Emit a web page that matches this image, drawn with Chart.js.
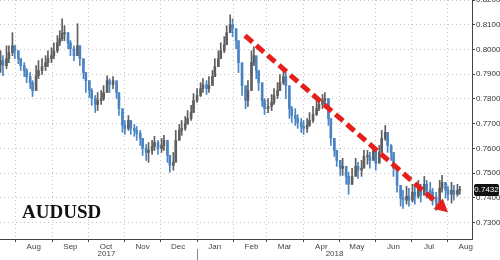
<!DOCTYPE html>
<html>
<head>
<meta charset="utf-8">
<script src="https://cdn.jsdelivr.net/npm/chart.js@4.4.1/dist/chart.umd.min.js"></script>
<style>
  html, body { margin: 0; padding: 0; background: #fff; }
  #wrap { width: 500px; height: 260px; position: relative; }
</style>
</head>
<body>
<div id="wrap"><canvas id="chart"></canvas></div>
<script>
// AUDUSD daily bars, x = days since 2017-07-01
const days = [18,20,23,25,28,30,33,35,38,40, 43,45,48,50,53,56,58,61,63,66,
  68,70,72,75,77,80,83,85,88,90, 93,95,98,100,103,105,108,110,113,116,
  118,121,123,126,128,131,133,136,138,141, 143,146,148,151,154,156,159,161,164,166,
  169,171,174,176,179,181,184,187,189,192, 194,197,199,202,204,207,209,212,214,217,
  219,222,225,227,230,232,234,236,239,241, 244,247,249,252,254,257,259,262,264,267,
  269,272,274,277,279,282,285,287,290,292, 295,297,300,302,305,307,310,312,315,318,
  320,323,325,328,330,333,335,338,340,343, 345,348,350,353,356,358,361,363,366,368,
  371,373,376,378,381,383,386,389,391,394, 396,399,401,404,406];

const closes = [0.7955,0.7935,0.7963,0.7987,0.8015,0.7995,0.7963,0.7935,0.7915,0.7890,
  0.7866,0.7834,0.7894,0.7915,0.7931,0.7947,0.7963,0.7975,0.7995,0.8027,
  0.8044,0.8064,0.8068,0.8027,0.8003,0.7975,0.8015,0.7963,0.7907,0.7874,
  0.7834,0.7802,0.7778,0.7794,0.7802,0.7826,0.7874,0.7858,0.7874,0.7826,
  0.7761,0.7693,0.7681,0.7713,0.7681,0.7673,0.7661,0.7641,0.7600,0.7584,
  0.7592,0.7608,0.7624,0.7600,0.7612,0.7633,0.7572,0.7532,0.7544,0.7633,
  0.7673,0.7681,0.7701,0.7721,0.7745,0.7794,0.7814,0.7842,0.7858,0.7842,
  0.7854,0.7890,0.7931,0.7963,0.7995,0.8019,0.8068,0.8100,0.8084,0.8036,
  0.7947,0.7854,0.7794,0.7834,0.7947,0.7975,0.7915,0.7866,0.7794,0.7761,
  0.7770,0.7786,0.7814,0.7834,0.7866,0.7890,0.7854,0.7761,0.7733,0.7721,
  0.7705,0.7689,0.7681,0.7693,0.7713,0.7737,0.7761,0.7778,0.7794,0.7802,
  0.7721,0.7641,0.7592,0.7552,0.7520,0.7528,0.7487,0.7455,0.7487,0.7528,
  0.7512,0.7520,0.7568,0.7568,0.7552,0.7592,0.7540,0.7584,0.7641,0.7665,
  0.7612,0.7584,0.7520,0.7451,0.7399,0.7391,0.7407,0.7391,0.7423,0.7407,
  0.7439,0.7411,0.7455,0.7431,0.7423,0.7403,0.7383,0.7439,0.7463,0.7431,
  0.7415,0.7431,0.7415,0.7431,0.7432];

const highs = [0.7995,0.7975,0.8015,0.8015,0.8068,0.8015,0.7995,0.7963,0.7947,0.7923,
  0.7907,0.7874,0.7935,0.7955,0.7963,0.7975,0.7995,0.8007,0.8027,0.8056,
  0.8076,0.8124,0.8096,0.8068,0.8036,0.8015,0.8104,0.8015,0.7955,0.7907,
  0.7874,0.7842,0.7814,0.7826,0.7834,0.7854,0.7894,0.7882,0.7890,0.7866,
  0.7814,0.7745,0.7713,0.7733,0.7713,0.7697,0.7689,0.7673,0.7641,0.7616,
  0.7624,0.7633,0.7649,0.7633,0.7641,0.7653,0.7612,0.7572,0.7584,0.7673,
  0.7697,0.7713,0.7729,0.7753,0.7774,0.7822,0.7842,0.7866,0.7882,0.7874,
  0.7890,0.7915,0.7963,0.7995,0.8027,0.8052,0.8096,0.8140,0.8124,0.8084,
  0.7995,0.7907,0.7834,0.7874,0.7995,0.8011,0.7955,0.7907,0.7842,0.7802,
  0.7802,0.7818,0.7842,0.7866,0.7899,0.7915,0.7907,0.7814,0.7770,0.7761,
  0.7737,0.7721,0.7713,0.7721,0.7745,0.7770,0.7794,0.7802,0.7818,0.7826,
  0.7794,0.7693,0.7633,0.7592,0.7552,0.7560,0.7528,0.7504,0.7520,0.7560,
  0.7544,0.7552,0.7592,0.7592,0.7584,0.7612,0.7584,0.7612,0.7673,0.7693,
  0.7653,0.7616,0.7572,0.7504,0.7439,0.7431,0.7447,0.7439,0.7455,0.7447,
  0.7471,0.7455,0.7487,0.7471,0.7463,0.7439,0.7423,0.7471,0.7491,0.7463,
  0.7447,0.7463,0.7451,0.7455,0.7447];

const lows = [0.7907,0.7894,0.7923,0.7947,0.7975,0.7963,0.7943,0.7915,0.7890,0.7866,
  0.7842,0.7810,0.7854,0.7882,0.7899,0.7915,0.7931,0.7947,0.7963,0.7987,
  0.8015,0.8036,0.8036,0.8003,0.7975,0.7955,0.7975,0.7935,0.7882,0.7826,
  0.7806,0.7774,0.7745,0.7753,0.7778,0.7794,0.7834,0.7826,0.7842,0.7802,
  0.7733,0.7665,0.7657,0.7673,0.7657,0.7649,0.7633,0.7612,0.7572,0.7552,
  0.7544,0.7576,0.7592,0.7576,0.7584,0.7592,0.7544,0.7504,0.7512,0.7592,
  0.7633,0.7653,0.7673,0.7697,0.7713,0.7761,0.7786,0.7810,0.7826,0.7818,
  0.7826,0.7858,0.7899,0.7931,0.7963,0.7987,0.8036,0.8068,0.8052,0.8003,
  0.7907,0.7814,0.7761,0.7770,0.7894,0.7935,0.7882,0.7834,0.7770,0.7737,
  0.7745,0.7753,0.7778,0.7802,0.7834,0.7858,0.7802,0.7721,0.7705,0.7693,
  0.7681,0.7665,0.7657,0.7665,0.7689,0.7705,0.7733,0.7753,0.7761,0.7770,
  0.7693,0.7612,0.7568,0.7528,0.7491,0.7491,0.7455,0.7415,0.7455,0.7491,
  0.7479,0.7487,0.7528,0.7536,0.7520,0.7552,0.7512,0.7552,0.7600,0.7633,
  0.7584,0.7552,0.7487,0.7423,0.7367,0.7358,0.7375,0.7367,0.7383,0.7375,
  0.7399,0.7383,0.7423,0.7399,0.7391,0.7371,0.7350,0.7399,0.7423,0.7399,
  0.7391,0.7379,0.7391,0.7407,0.7415];

const firstOpen = 0.7940;

// month boundaries (days since 2017-07-01) and their labels
const monthStarts = [31, 62, 92, 123, 153, 184, 215, 243, 274, 304, 335, 365, 396];
const monthLabels = ['Aug', 'Sep', 'Oct', 'Nov', 'Dec', 'Jan', 'Feb', 'Mar', 'Apr', 'May', 'Jun', 'Jul', 'Aug'];
const yearLabels = ['2017', '2018'];
const yearSpans = [[31, 184], [184, 416.3]];
const yTicks = [0.73, 0.74, 0.75, 0.76, 0.77, 0.78, 0.79, 0.80, 0.81, 0.82];

// red trend arrow, [day, price]
const arrowFrom = [224.5, 0.8056];
const arrowTo = [396, 0.7342];

const UP = '#5e5e5e';
const DOWN = '#4a84c2';
const RED = '#e5201c';

const opens = closes.map((c, i) => i ? closes[i - 1] : firstOpen);
const monthMids = monthStarts.map(d => d + 15);

function barColor(ctx) {
    const i = ctx.dataIndex;
    return closes[i] >= opens[i] ? UP : DOWN;
}

const overlay = {
    id: 'overlay',
    afterDraw(chart) {
        const ctx = chart.ctx;
        const x = chart.scales.x;
        const y = chart.scales.y;
        ctx.save();

        // year row under the month labels
        ctx.font = '8px "Liberation Sans"';
        ctx.fillStyle = '#444';
        ctx.textAlign = 'center';
        ctx.textBaseline = 'middle';
        yearLabels.forEach((t, i) => {
            const cx = (x.getPixelForValue(yearSpans[i][0]) + x.getPixelForValue(yearSpans[i][1])) / 2;
            ctx.fillText(t, cx, 254);
        });
        const sx = Math.round(x.getPixelForValue(yearSpans[1][0])) + 0.5;
        ctx.strokeStyle = '#888';
        ctx.lineWidth = 1;
        ctx.beginPath();
        ctx.moveTo(sx, 249);
        ctx.lineTo(sx, 260);
        ctx.stroke();

        // dashed red arrow
        const x0 = x.getPixelForValue(arrowFrom[0]), y0 = y.getPixelForValue(arrowFrom[1]);
        const x1 = x.getPixelForValue(arrowTo[0]), y1 = y.getPixelForValue(arrowTo[1]);
        const ang = Math.atan2(y1 - y0, x1 - x0);
        const headLen = 13, headW = 7;
        const bx = x1 - headLen * Math.cos(ang), by = y1 - headLen * Math.sin(ang);
        ctx.strokeStyle = RED;
        ctx.lineWidth = 5;
        ctx.setLineDash([10, 5]);
        ctx.beginPath();
        ctx.moveTo(x0, y0);
        ctx.lineTo(bx, by);
        ctx.stroke();
        ctx.setLineDash([]);
        ctx.fillStyle = RED;
        ctx.beginPath();
        ctx.moveTo(x1, y1);
        ctx.lineTo(bx + headW * Math.sin(ang), by - headW * Math.cos(ang));
        ctx.lineTo(bx - headW * Math.sin(ang), by + headW * Math.cos(ang));
        ctx.closePath();
        ctx.fill();

        // title
        ctx.font = 'bold 19px "Liberation Serif"';
        ctx.fillStyle = '#111';
        ctx.textAlign = 'left';
        ctx.textBaseline = 'alphabetic';
        ctx.fillText('AUDUSD', 22, 218);

        // last price tag
        const last = closes[closes.length - 1];
        const ty = Math.round(y.getPixelForValue(last));
        ctx.fillStyle = '#111';
        ctx.beginPath();
        ctx.roundRect(474, ty - 6, 25, 12, 2);
        ctx.fill();
        ctx.fillStyle = '#fff';
        ctx.font = '8px "Liberation Sans"';
        ctx.textAlign = 'center';
        ctx.textBaseline = 'middle';
        ctx.fillText(last.toFixed(4), 486.5, ty);

        ctx.restore();
    }
};

new Chart(document.getElementById('chart'), {
    type: 'bar',
    data: {
        datasets: [{
            label: 'range',
            data: days.map((d, i) => ({x: d, y: [lows[i], highs[i]]})),
            backgroundColor: barColor,
            barThickness: 1,
            grouped: false,
            borderWidth: 0
        }, {
            label: 'body',
            data: days.map((d, i) => ({x: d, y: [opens[i], closes[i]]})),
            backgroundColor: barColor,
            barThickness: 2,
            minBarLength: 1,
            grouped: false,
            borderWidth: 0
        }]
    },
    options: {
        responsive: true,
        maintainAspectRatio: false,
        animation: false,
        devicePixelRatio: 1,
        layout: {padding: 0},
        plugins: {
            legend: {display: false},
            tooltip: {enabled: false}
        },
        scales: {
            x: {
                type: 'linear',
                min: 17.5,
                max: 416.3,
                offset: false,
                afterBuildTicks: function (s) {
                    s.ticks = monthStarts.concat(monthMids).sort((a, b) => a - b).map(v => ({value: v}));
                },
                afterFit: function (s) {
                    s.height = 21;
                    s.paddingLeft = 0;
                    s.paddingRight = 0;
                },
                grid: {
                    offset: false,
                    color: c => (c.tick && monthStarts.includes(c.tick.value)) ? '#c4c4c4' : 'rgba(0,0,0,0)',
                    tickColor: c => (c.tick && monthStarts.includes(c.tick.value)) ? '#444' : 'rgba(0,0,0,0)',
                    tickLength: 3
                },
                border: {color: '#444', width: 1, dash: [1, 3]},
                ticks: {
                    autoSkip: false,
                    maxRotation: 0,
                    padding: 0,
                    color: '#444',
                    font: {size: 8, family: 'Liberation Sans'},
                    callback: function (v) {
                        const i = monthMids.indexOf(v);
                        return i >= 0 ? monthLabels[i] : '';
                    }
                }
            },
            y: {
                type: 'linear',
                position: 'right',
                min: 0.7234,
                max: 0.82,
                beginAtZero: false,
                afterBuildTicks: function (s) {
                    s.ticks = yTicks.map(v => ({value: v}));
                },
                afterFit: function (s) {
                    s.width = 28;
                    s.paddingTop = 0;
                    s.paddingBottom = 0;
                },
                grid: {
                    color: '#c4c4c4',
                    tickColor: '#444',
                    tickLength: 3
                },
                border: {color: '#444', width: 1, dash: [1, 3]},
                ticks: {
                    padding: 1,
                    color: '#333',
                    font: {size: 8, family: 'Liberation Sans'},
                    callback: v => v.toFixed(4)
                }
            }
        }
    },
    plugins: [overlay]
});
</script>
</body>
</html>
